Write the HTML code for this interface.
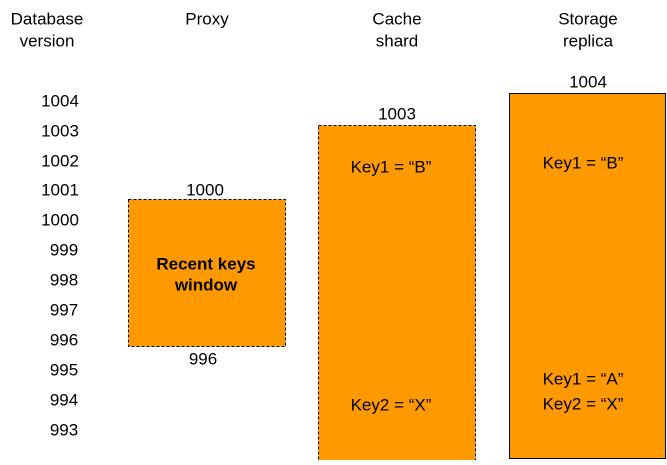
<!DOCTYPE html>
<html><head><style>body{margin:0;background:#fff}</style></head><body>
<svg width="667" height="460" xmlns="http://www.w3.org/2000/svg" font-family="Liberation Sans, sans-serif" font-size="17" fill="#000" text-anchor="middle">
<rect x="128.5" y="199.5" width="157" height="147" fill="#FF9900" stroke="#000" stroke-dasharray="3,2"/>
<rect x="318.5" y="125.5" width="157" height="340" fill="#FF9900" stroke="#000" stroke-dasharray="3,2"/>
<rect x="509.5" y="93.5" width="156" height="365" fill="#FF9900" stroke="#000"/>
<g dominant-baseline="central">
<text x="47" y="19">Database</text><text x="47" y="41">version</text>
<text x="207" y="19">Proxy</text>
<text x="397" y="19">Cache</text><text x="397" y="41">shard</text>
<text x="588" y="19">Storage</text><text x="588" y="41">replica</text>
<text x="60" y="101">1004</text><text x="60" y="131">1003</text><text x="60" y="161">1002</text><text x="60" y="190">1001</text><text x="60" y="220">1000</text><text x="64" y="250">999</text><text x="64" y="280">998</text><text x="64" y="310">997</text><text x="64" y="340">996</text><text x="64" y="370">995</text><text x="64" y="400">994</text><text x="64" y="430">993</text>
<text x="205" y="190">1000</text><text x="203" y="359">996</text>
<text x="397" y="114">1003</text><text x="588" y="82">1004</text>
<text x="206" y="264" font-weight="bold">Recent keys</text><text x="206" y="285" font-weight="bold">window</text>
<text x="391" y="167">Key1 = “B”</text><text x="391" y="405">Key2 = “X”</text>
<text x="583" y="163">Key1 = “B”</text><text x="583" y="379">Key1 = “A”</text><text x="583" y="404">Key2 = “X”</text>
</g>
</svg>
</body></html>
